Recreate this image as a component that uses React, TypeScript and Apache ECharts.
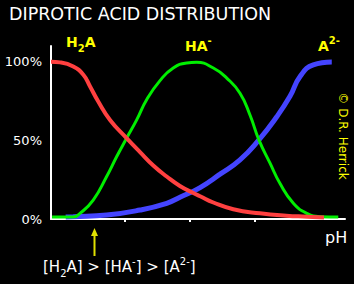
import React, { useEffect, useRef } from "react";
import * as echarts from "echarts";

// pH values and percent fraction of each species
const h2aPH = [0, 0.43, 1.06, 1.54, 1.86, 2.25, 2.81, 3.6, 4.24, 4.87, 5.51, 6.14, 6.78, 7.1, 7.73, 8.68, 9.95, 11.2, 12.2, 13.0];
const h2aVal = [100, 99.6, 97, 91.7, 84.3, 74.7, 63, 51.4, 42.5, 34, 27, 21, 16.5, 14.5, 10.5, 6.2, 3.6, 2.1, 1.5, 1.0];

const haPH = [0.05, 1.06, 1.38, 2.01, 2.65, 3.13, 3.6, 4.08, 4.56, 5.19, 5.82, 6.46, 6.94, 7.73, 8.37, 9.0, 9.48, 9.9, 10.43, 10.9, 11.54, 12.18, 12.81, 13.68];
const haVal = [1.3, 1.3, 3.6, 12, 27, 39.7, 51.4, 63, 76, 88, 96, 99.2, 99.6, 96, 89.6, 80, 66, 50.3, 35.5, 22.7, 10, 3.6, 1.5, 1.3];

const a2PH = [0.7, 1.06, 2.65, 4.24, 5.51, 6.14, 7.1, 8.05, 9.0, 9.9, 10.75, 11.38, 11.86, 12.49, 13.37];
const a2Val = [1.3, 1.5, 2.5, 5.7, 10, 13.8, 20, 28.5, 37.6, 50.3, 65, 78, 90.6, 98, 99.8];

const yLabels = [0, 50, 100];
const xTicks = [3.5, 6.6, 9.7];

const zip = (xs: number[], ys: number[]) => xs.map((x, i) => [x, ys[i]]);

const FONT = "DejaVu Sans";

export default function App() {
  const ref = useRef<HTMLDivElement>(null);
  useEffect(() => {
    const chart = echarts.init(ref.current!, null, { renderer: "svg" });
    chart.setOption({
      animation: false,
      backgroundColor: "#000",
      title: {
        text: "DIPROTIC ACID DISTRIBUTION",
        left: 4,
        top: 0,
        textStyle: { color: "#fff", fontFamily: FONT, fontSize: 17.5, fontWeight: "normal" },
      },
      grid: { left: 51, right: 9, top: 46, bottom: 65 },
      xAxis: {
        type: "value",
        min: 0,
        max: 14,
        axisLine: { show: true, lineStyle: { color: "#fff", width: 2 } },
        axisTick: { show: true, customValues: xTicks, length: 3, lineStyle: { color: "#fff", width: 2 } },
        axisLabel: { show: false },
        splitLine: { show: false },
      },
      yAxis: {
        type: "value",
        min: 0,
        max: 110,
        axisLine: { show: true, lineStyle: { color: "#fff", width: 2 } },
        axisTick: { show: false },
        axisLabel: {
          customValues: yLabels,
          formatter: "{value}%",
          color: "#fff",
          fontFamily: FONT,
          fontSize: 13,
          margin: 9,
        },
        splitLine: { show: false },
      },
      series: [
        {
          type: "line",
          data: zip(a2PH, a2Val),
          smooth: 0.5,
          showSymbol: false,
          lineStyle: { color: "#4444ff", width: 5 },
          z: 2,
        },
        {
          type: "line",
          data: zip(haPH, haVal),
          smooth: 0.5,
          showSymbol: false,
          lineStyle: { color: "#00ee00", width: 3 },
          z: 3,
        },
        {
          type: "line",
          data: zip(h2aPH, h2aVal),
          smooth: 0.5,
          showSymbol: false,
          lineStyle: { color: "#ff4040", width: 4 },
          z: 4,
        },
      ],
      graphic: [
        {
          type: "text",
          x: 66,
          y: 35,
          style: {
            text: "{a|H}{s|2}{a|A}",
            rich: {
              a: { fill: "#ffff00", fontFamily: FONT, fontSize: 14, fontWeight: "bold", lineHeight: 18, verticalAlign: "top" },
              s: { fill: "#ffff00", fontFamily: FONT, fontSize: 10, fontWeight: "bold", lineHeight: 18, verticalAlign: "bottom" },
            },
          },
        },
        {
          type: "text",
          x: 185,
          y: 35,
          style: {
            text: "{a|HA}{p|-}",
            rich: {
              a: { fill: "#ffff00", fontFamily: FONT, fontSize: 14, fontWeight: "bold", lineHeight: 18, verticalAlign: "bottom" },
              p: { fill: "#ffff00", fontFamily: FONT, fontSize: 10, fontWeight: "bold", lineHeight: 18, verticalAlign: "top" },
            },
          },
        },
        {
          type: "text",
          x: 318,
          y: 35,
          style: {
            text: "{a|A}{p|2-}",
            rich: {
              a: { fill: "#ffff00", fontFamily: FONT, fontSize: 14, fontWeight: "bold", lineHeight: 18, verticalAlign: "bottom" },
              p: { fill: "#ffff00", fontFamily: FONT, fontSize: 10, fontWeight: "bold", lineHeight: 18, verticalAlign: "top" },
            },
          },
        },
        {
          type: "text",
          x: 325,
          y: 229,
          style: { text: "pH", fill: "#fff", fontFamily: FONT, fontSize: 16 },
        },
        {
          type: "text",
          x: 343,
          y: 136,
          rotation: -Math.PI / 2,
          style: {
            text: "© D.R. Herrick",
            fill: "#ffff00",
            fontFamily: FONT,
            fontSize: 12,
            align: "center",
            verticalAlign: "middle",
          },
        },
        {
          type: "line",
          shape: { x1: 94.5, y1: 235, x2: 94.5, y2: 256 },
          style: { stroke: "#e0e000", lineWidth: 2 },
        },
        {
          type: "polygon",
          shape: { points: [[94.5, 228], [91, 236], [98, 236]] },
          style: { fill: "#e0e000" },
        },
        {
          type: "text",
          x: 43,
          y: 256,
          style: {
            text: "{a|[H}{s|2}{a|A] > [HA}{p|-}{a|] > [A}{p|2-}{a|]}",
            rich: {
              a: { fill: "#fff", fontFamily: FONT, fontSize: 15, lineHeight: 22, verticalAlign: "middle" },
              s: { fill: "#fff", fontFamily: FONT, fontSize: 10, lineHeight: 22, verticalAlign: "bottom" },
              p: { fill: "#fff", fontFamily: FONT, fontSize: 10, lineHeight: 22, verticalAlign: "top" },
            },
          },
        },
      ],
    });
    return () => chart.dispose();
  }, []);
  return <div ref={ref} style={{ width: 354, height: 284, position: "fixed", left: 0, top: 0 }} />;
}
